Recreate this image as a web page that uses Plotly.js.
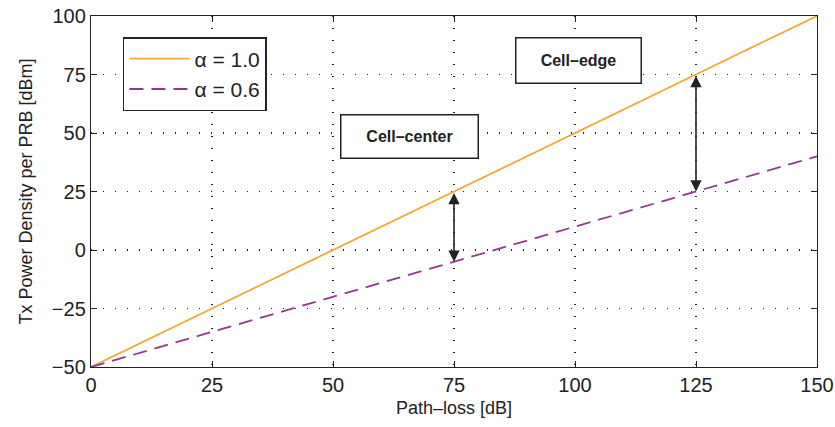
<!DOCTYPE html>
<html><head><meta charset="utf-8">
<script src="https://cdn.plot.ly/plotly-3.0.1.min.js"></script>
<style>body{margin:0;background:#fff}#c{width:835px;height:427px}</style>
</head><body><div id="c"></div>
<script>
const pathLoss = [0, 25, 50, 75, 100, 125, 150];
const alpha10 = [-50, -25, 0, 25, 50, 75, 100];
const alpha06 = [-50, -35, -20, -5, 10, 25, 40];
const xTicks = [0, 25, 50, 75, 100, 125, 150];
const yTicks = [-50, -25, 0, 25, 50, 75, 100];
const arrowX = [75, 125];
const arrowTop = [25, 75];
const arrowBottom = [-5, 25];

const F = '"Liberation Sans Narrow", "Arial Narrow", "Liberation Sans", Arial, sans-serif';
const traces = [
  {x: pathLoss, y: alpha10, mode: 'lines', name: '\u03b1 = 1.0',
   line: {color: '#f5a833', width: 1.8}},
  {x: pathLoss, y: alpha06, mode: 'lines', name: '\u03b1 = 0.6',
   line: {color: '#8e3a8e', width: 1.8, dash: '14px,8px'}}
];
const annotations = [];
for (let i = 0; i < arrowX.length; i++) {
  annotations.push({x: arrowX[i], y: arrowBottom[i], ax: arrowX[i], ay: arrowTop[i],
    xref: 'x', yref: 'y', axref: 'x', ayref: 'y', text: '', showarrow: true,
    arrowhead: 2, startarrowhead: 2, arrowside: 'end+start', arrowwidth: 1.6,
    arrowsize: 1.4, startarrowsize: 1.4, arrowcolor: '#222'});
}
const boxFont = {family: 'Liberation Sans, Arial', size: 16, color: '#222'};
annotations.push({x: 100.8, y: 81, xref: 'x', yref: 'y', text: '<b>Cell\u2013edge</b>',
  showarrow: false, font: boxFont, width: 120, height: 40,
  bordercolor: '#222', borderwidth: 1.5, borderpad: 2, bgcolor: '#fff'});
annotations.push({x: 65.8, y: 48.5, xref: 'x', yref: 'y', text: '<b>Cell\u2013center</b>',
  showarrow: false, font: boxFont, width: 132, height: 38,
  bordercolor: '#222', borderwidth: 1.5, borderpad: 2, bgcolor: '#fff'});

const axisCommon = {showline: true, mirror: 'ticks', linecolor: '#222', linewidth: 1.2,
  ticks: 'inside', ticklen: 6, tickcolor: '#222', showgrid: true, gridcolor: '#222',
  griddash: '1px,11px', gridwidth: 1.2, zeroline: false,
  tickfont: {family: F, size: 20, color: '#222'}};
const layout = {
  width: 835, height: 427, margin: {l: 91, r: 18, t: 16, b: 60},
  paper_bgcolor: '#fff', plot_bgcolor: '#fff', showlegend: true,
  legend: {x: 0.044, y: 0.94, xanchor: 'left', yanchor: 'top', bordercolor: '#222',
    borderwidth: 1.5, bgcolor: '#fff', font: {family: 'Liberation Sans, Arial', size: 21, color: '#222'},
    itemwidth: 60, entrywidth: 150},
  xaxis: Object.assign({}, axisCommon, {range: [0, 150], tickvals: xTicks,
    title: {text: 'Path\u2013loss [dB]', font: {family: F, size: 18, color: '#222'}, standoff: 6}}),
  yaxis: Object.assign({}, axisCommon, {range: [-50, 100], tickvals: yTicks,
    title: {text: 'Tx Power Density per PRB [dBm]', font: {family: F, size: 18, color: '#222'}, standoff: 14}}),
  annotations: annotations
};
Plotly.newPlot('c', traces, layout, {displayModeBar: false, staticPlot: true});
</script></body></html>
